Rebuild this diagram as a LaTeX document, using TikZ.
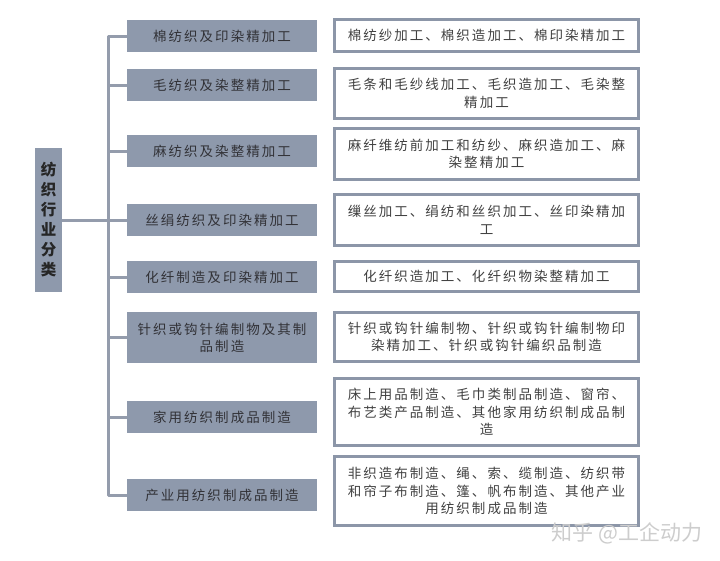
\documentclass[tikz,border=0pt]{standalone}
\usepackage{fontspec}
\setmainfont{Noto Sans CJK SC}
\newfontfamily\cjk[LetterSpace=15]{Noto Sans CJK SC}
\definecolor{boxgray}{RGB}{142,153,172}
\definecolor{bordergray}{RGB}{140,150,168}
\definecolor{linegray}{RGB}{148,156,172}
\definecolor{txtdark}{RGB}{50,50,55}
\definecolor{txtmid}{RGB}{65,65,65}
\definecolor{wmgray}{RGB}{205,205,205}
\begin{document}
\begin{tikzpicture}[x=1pt,y=-1pt,
  catbox/.style={fill=boxgray, draw=none, minimum width=190pt, minimum height=32pt,
    inner sep=0pt, align=center, text=txtdark, font=\cjk\fontsize{13.5}{17}\selectfont},
  descbox/.style={draw=bordergray, line width=3pt, fill=white, minimum width=304pt,
    inner sep=0pt, align=center, text=txtmid, font=\cjk\fontsize{13.5}{17.5}\selectfont},
  link/.style={draw=linegray, line width=3pt, line join=round, line cap=butt}]
\useasboundingbox (0,0) rectangle (720,560);
\fill[white] (0,0) rectangle (720,560);

% root
\node[fill=boxgray, minimum width=27pt, minimum height=144pt, inner sep=0pt,
  text=black!85, align=center, font=\bfseries\fontsize{15.5}{20}\selectfont] (root) at (48.5,220)
  {纺\\织\\行\\业\\分\\类};

\coordinate (tk) at (108,0);

% categories
\node[catbox] (c1) at (222,36) {棉纺织及印染精加工};
\node[catbox] (c2) at (222,85) {毛纺织及染整精加工};
\node[catbox] (c3) at (222,151) {麻纺织及染整精加工};
\node[catbox] (c4) at (222,220) {丝绢纺织及印染精加工};
\node[catbox] (c5) at (222,277) {化纤制造及印染精加工};
\node[catbox, minimum height=51pt] (c6) at (222,337.5) {针织或钩针编制物及其制\\品制造};
\node[catbox] (c7) at (222,417) {家用纺织制成品制造};
\node[catbox] (c8) at (222,495) {产业用纺织制成品制造};

% descriptions
\node[descbox, minimum height=32pt] (d1) at (486.5,35.5) {棉纺纱加工、棉织造加工、棉印染精加工};
\node[descbox, minimum height=50pt] (d2) at (486.5,93.5) {毛条和毛纱线加工、毛织造加工、毛染整\\精加工};
\node[descbox, minimum height=51pt] (d3) at (486.5,154) {麻纤维纺前加工和纺纱、麻织造加工、麻\\染整精加工};
\node[descbox, minimum height=51pt] (d4) at (486.5,220) {缫丝加工、绢纺和丝织加工、丝印染精加\\工};
\node[descbox, minimum height=30pt] (d5) at (486.5,276.5) {化纤织造加工、化纤织物染整精加工};
\node[descbox, minimum height=49pt] (d6) at (486.5,337) {针织或钩针编制物、针织或钩针编制物印\\染精加工、针织或钩针编织品制造};
\node[descbox, minimum height=67pt] (d7) at (486.5,412) {床上用品制造、毛巾类制品制造、窗帘、\\布艺类产品制造、其他家用纺织制成品制\\造};
\node[descbox, minimum height=69pt] (d8) at (486.5,491) {非织造布制造、绳、索、缆制造、纺织带\\和帘子布制造、篷、帆布制造、其他产业\\用纺织制成品制造};

% connectors
\draw[link] (c1.west) -- (c1.west -| tk) -- (c8.west -| tk) -- (c8.west);
\draw[link] (root.east) -- (root.east -| tk);
\foreach \n in {c2,c3,c4,c5,c6,c7}
  \draw[link] (\n.west -| tk) -- (\n.west);

% watermark
\node[text=wmgray, font=\fontsize{21}{24}\selectfont, anchor=east] (wm) at (706,533) {知乎 @工企动力};
\end{tikzpicture}
\end{document}
